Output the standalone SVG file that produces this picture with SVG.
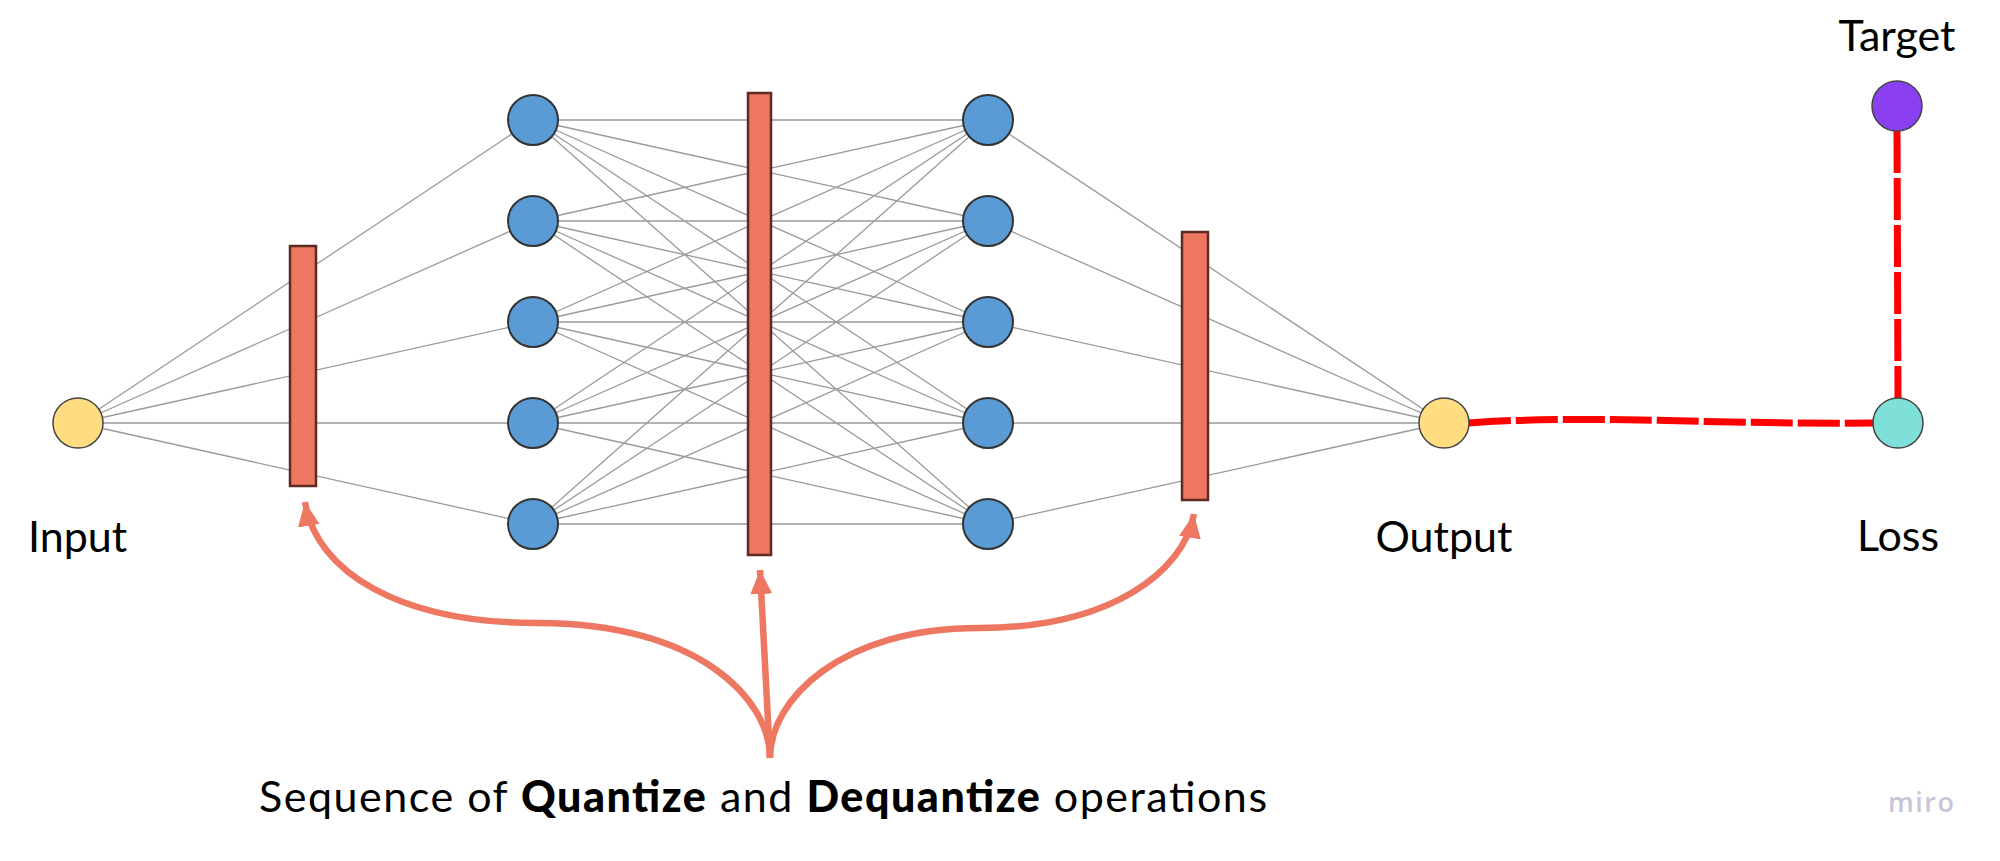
<svg xmlns="http://www.w3.org/2000/svg" width="2000" height="861" viewBox="0 0 2000 861">
<defs>
<style>
.w{stroke:#9a9a9a;stroke-width:1.3;fill:none}
.blue{fill:#5B9BD5;stroke:#333;stroke-width:2}
.yel{fill:#FFDD80;stroke:#444;stroke-width:1.5}
.qd{fill:#EE7762;stroke:#5e2a22;stroke-width:2.5}
.lbl{font-family:Lato,"Open Sans",sans-serif;font-size:43px;fill:#000}
.red{stroke:#FF0000;stroke-width:7;fill:none;stroke-dasharray:42 5}
.arr{stroke:#EE7762;stroke-width:6.5;fill:none}
</style>
<marker id="ah" markerUnits="userSpaceOnUse" markerWidth="26" markerHeight="26" viewBox="0 0 26 26" refX="24" refY="13" orient="auto">
<path d="M0,2 L24,13 L0,24 Z" fill="#EE7762"/>
</marker>
</defs>
<rect width="2000" height="861" fill="#fff"/>
<g id="connectors">
<path class="w" d="M78,423 L533,120 M78,423 L533,221 M78,423 L533,322 M78,423 L533,423 M78,423 L533,524"/>
<path class="w" d="M533,120 L988,120 M533,120 L988,221 M533,120 L988,322 M533,120 L988,423 M533,120 L988,524
M533,221 L988,120 M533,221 L988,221 M533,221 L988,322 M533,221 L988,423 M533,221 L988,524
M533,322 L988,120 M533,322 L988,221 M533,322 L988,322 M533,322 L988,423 M533,322 L988,524
M533,423 L988,120 M533,423 L988,221 M533,423 L988,322 M533,423 L988,423 M533,423 L988,524
M533,524 L988,120 M533,524 L988,221 M533,524 L988,322 M533,524 L988,423 M533,524 L988,524"/>
<path class="w" d="M988,120 L1444,423 M988,221 L1444,423 M988,322 L1444,423 M988,423 L1444,423 M988,524 L1444,423"/>
<path class="red" d="M1469,423 C1520,419 1580,419 1640,420 S1780,424 1874,423"/>
<path class="red" d="M1897,131 L1898,398"/>
<path class="arr" marker-end="url(#ah)" d="M770,758 C770,700 700,623 537,623 C400,623 316,572 305,502"/>
<path class="arr" stroke-width="5" marker-end="url(#ah)" d="M770,758 L760,570"/>
<path class="arr" marker-end="url(#ah)" d="M770,758 C770,700 840,628 979,628 C1110,628 1184,572 1194,514"/>
</g>
<g id="qd1"><rect class="qd" x="290" y="246" width="26" height="240"/></g>
<g id="qd2"><rect class="qd" x="748" y="93" width="23" height="462"/></g>
<g id="qd3"><rect class="qd" x="1182" y="232" width="26" height="268"/></g>
<g id="input"><circle class="yel" cx="78" cy="423" r="25"/><text class="lbl" x="28" y="552">Input</text></g>
<g id="h1">
<circle class="blue" cx="533" cy="120" r="25"/>
<circle class="blue" cx="533" cy="221" r="25"/>
<circle class="blue" cx="533" cy="322" r="25"/>
<circle class="blue" cx="533" cy="423" r="25"/>
<circle class="blue" cx="533" cy="524" r="25"/>
</g>
<g id="h2">
<circle class="blue" cx="988" cy="120" r="25"/>
<circle class="blue" cx="988" cy="221" r="25"/>
<circle class="blue" cx="988" cy="322" r="25"/>
<circle class="blue" cx="988" cy="423" r="25"/>
<circle class="blue" cx="988" cy="524" r="25"/>
</g>
<g id="output"><circle class="yel" cx="1444" cy="423" r="25"/><text class="lbl" x="1444" y="552" text-anchor="middle">Output</text></g>
<g id="loss"><circle cx="1898" cy="423" r="25" fill="#7EE0D8" stroke="#444" stroke-width="1.5"/><text class="lbl" x="1898" y="551" text-anchor="middle">Loss</text></g>
<g id="target"><circle cx="1897" cy="106" r="25" fill="#8A3FF0" stroke="#444" stroke-width="1.5"/><text class="lbl" x="1897" y="51" text-anchor="middle">Target</text></g>
<g id="caption"><text class="lbl" x="259" y="812" font-size="44" textLength="1008" lengthAdjust="spacing">Sequence of <tspan font-weight="900">Quantize</tspan> and <tspan font-weight="900">Dequantize</tspan> operations</text></g>
<text x="1888" y="812" font-family="'Open Sans',sans-serif" font-size="27" font-weight="600" fill="#c6c6d6" letter-spacing="1.5">miro</text>
</svg>
